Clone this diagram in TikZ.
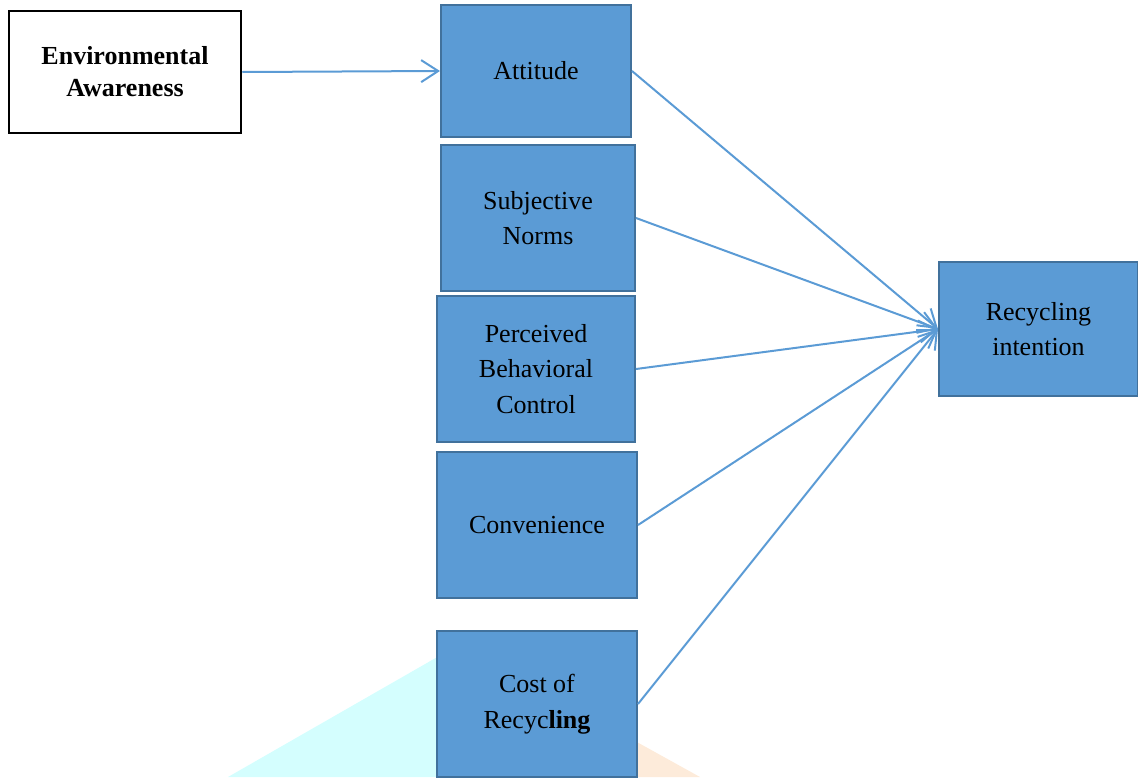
\documentclass[tikz,border=0pt]{standalone}
\usepackage{fontspec}
\setmainfont{Liberation Serif}
\usetikzlibrary{arrows.meta}
\definecolor{boxblue}{HTML}{5B9BD5}
\definecolor{boxedge}{HTML}{41719C}
\definecolor{wmcyan}{HTML}{D4FEFE}
\definecolor{wmpeach}{HTML}{FDEBDA}
\begin{document}
\begin{tikzpicture}[x=1pt,y=-1pt,
  bluebox/.style={draw=boxedge, fill=boxblue, line width=2pt, rectangle, inner sep=0pt, align=center,
    font=\fontsize{26}{35.5}\selectfont},
  whitebox/.style={draw=black, fill=white, line width=2.5pt, rectangle, inner sep=0pt, align=center,
    font=\fontsize{26}{32}\selectfont\bfseries},
  link/.style={draw=boxblue, line width=2pt, -{Straight Barb[length=17pt,width=22pt,line width=2pt]}}]
\useasboundingbox (0,0) rectangle (1138,777);
% watermark shapes
\fill[wmcyan] (228,777) -- (460,644) -- (540,777) -- cycle;
\fill[wmpeach] (540,777) -- (460,644) -- (700,777) -- cycle;
% nodes
\node[whitebox, minimum width=232pt, minimum height=122pt] (ea) at (125,72) {Environmental\\Awareness};
\node[bluebox, minimum width=190pt, minimum height=132pt] (att) at (536,71) {Attitude};
\node[bluebox, minimum width=194pt, minimum height=146pt] (sn) at (538,218) {Subjective\\Norms};
\node[bluebox, minimum width=198pt, minimum height=146pt] (pbc) at (536,369) {Perceived\\Behavioral\\Control};
\node[bluebox, minimum width=200pt, minimum height=146pt] (conv) at (537,525) {Convenience};
\node[bluebox, minimum width=200pt, minimum height=146pt] (cost) at (537,704) {Cost of\\Recyc\textbf{ling}};
\node[bluebox, minimum width=199pt, minimum height=134pt] (ri) at (1038.5,329) {Recycling\\intention};
% connectors
\draw[link] (ea.east) -- (att.west);
\draw[link] (att.east) -- (ri.west);
\draw[link] (sn.east) -- (ri.west);
\draw[link] (pbc.east) -- (ri.west);
\draw[link] (conv.east) -- (ri.west);
\draw[link] (cost.east) -- (ri.west);
\end{tikzpicture}
\end{document}
